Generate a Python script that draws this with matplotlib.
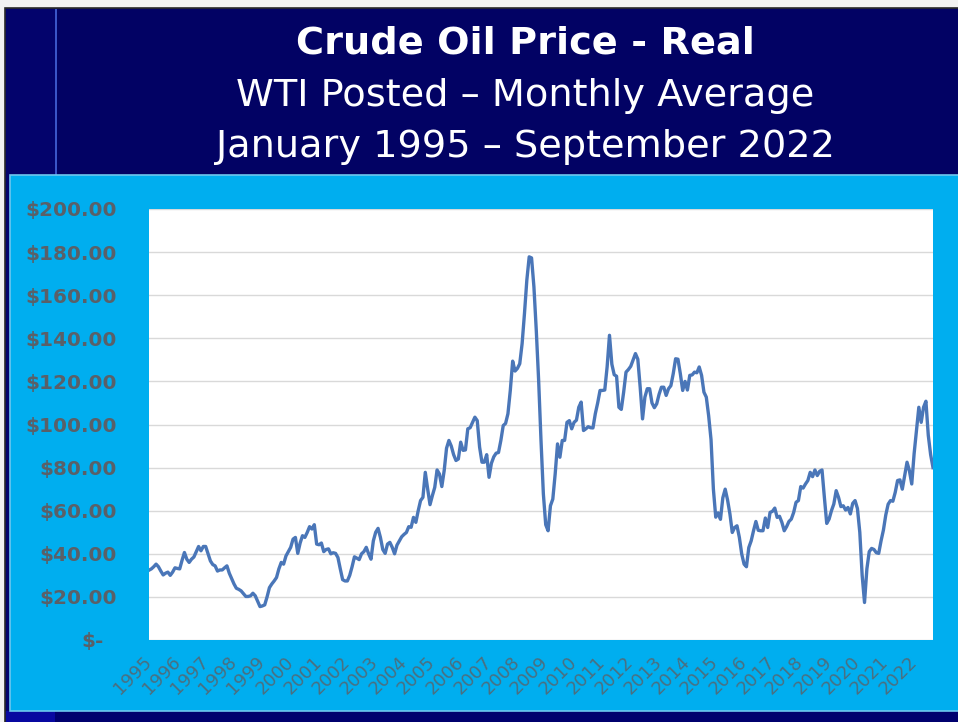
import matplotlib
matplotlib.use("Agg")
import matplotlib.pyplot as plt
from matplotlib.patches import Rectangle
from matplotlib.ticker import FixedLocator, FixedFormatter
from matplotlib.transforms import ScaledTranslation

# monthly real WTI posted price (USD), Jan 1995 .. Sep 2022
real_price = [
    32.4, 33, 34, 35.2, 34, 32, 30.2, 31, 31.5, 30, 31.5, 33.5,            # 1995
    33.2, 33, 37, 40.6, 37.5, 36, 37.5, 38.5, 41, 43.4, 41.4, 43.4,        # 1996
    43.4, 40, 36.7, 35, 34.4, 32, 32.5, 32.5, 33.5, 34.4, 31, 28.5,        # 1997
    26, 24, 23.5, 22.8, 21.5, 20.2, 20.2, 20.5, 21.7, 20.5, 18, 15.5,      # 1998
    15.8, 16.3, 20, 24.3, 26, 27.4, 29, 33, 36, 35.2, 39, 41,              # 1999
    43, 46.8, 47.6, 40.2, 45, 48.4, 47.6, 49.9, 52.6, 51.5, 53.5, 44.5,    # 2000
    44.2, 45, 41, 42, 42.3, 40, 40.5, 40.2, 38.3, 33, 28, 27.4,            # 2001
    27.4, 30, 34, 38.6, 38, 37.3, 40, 41, 43, 40, 37.5, 46,                # 2002
    50, 51.8, 47.6, 42, 40.2, 44.5, 45.3, 43, 40, 44, 46, 47.9,            # 2003
    49, 49.9, 52.6, 52.3, 56.9, 54.6, 60, 64.7, 66.2, 77.8, 70.1, 62.8,    # 2004
    67, 70.8, 78.9, 77, 71.2, 78.6, 89, 92.6, 90, 86, 83.3, 84,            # 2005
    91.8, 88, 88.2, 98, 98.5, 101, 103.4, 101.8, 89.5, 82.5, 82.5, 86,     # 2006
    75.5, 82, 85, 86.7, 87, 92.6, 99.5, 100.5, 105, 115.8, 129.4, 124.8,   # 2007
    126, 128.2, 137.5, 151.5, 167, 177.8, 177.3, 163.9, 143.7, 120.5, 92.6, 67.8,  # 2008
    53.5, 50.7, 62.3, 65.4, 77, 91, 84.8, 92.6, 92.6, 101, 101.8, 98,      # 2009
    101, 102, 108, 110.4, 97.2, 98, 99, 98.5, 98.4, 105, 110, 115.8,       # 2010
    115.8, 116, 126.7, 141.4, 128, 123.1, 122.4, 108, 107, 115, 124.3, 125.5,  # 2011
    127, 130, 132.9, 130.3, 117.3, 102.6, 112.7, 116.6, 116.6, 110, 107.8, 109.6,  # 2012
    114, 117.3, 117.3, 113.5, 116.6, 118, 123.6, 130.5, 130.3, 123.6, 115.8, 120,  # 2013
    116, 122.8, 123, 124.3, 124, 126.7, 122.8, 115, 112.7, 104, 93, 70,    # 2014
    57, 59, 56, 66, 70, 65, 58.5, 49.9, 52.2, 53, 47.6, 39.9,              # 2015
    35.2, 34, 42.9, 46, 50.7, 55, 50.9, 50.7, 50.7, 56.6, 52.2, 59.2,      # 2016
    59.7, 61.2, 56.9, 57.4, 54.6, 50.7, 52.6, 55, 56.1, 59.2, 63.9, 64.7,  # 2017
    71.2, 70.5, 72.4, 74, 77.8, 75.8, 78.9, 76.3, 78.3, 78.9, 66.2, 54.1,  # 2018
    56.1, 60, 63.1, 69.3, 66.2, 61.9, 62.3, 60.3, 61.5, 58.5, 63.4, 64.7,  # 2019
    61, 50, 30, 17.4, 33, 41, 42.5, 42, 40.5, 40.2, 46, 51,                # 2020
    58, 63, 64.7, 64.4, 68.5, 74, 74.3, 70, 76.3, 82.5, 78.6, 72.4,        # 2021
    86.4, 97, 108, 101, 108, 110.8, 95, 86, 80,                            # 2022
]

year_labels = ["1995", "1996", "1997", "1998", "1999", "2000", "2001", "2002",
               "2003", "2004", "2005", "2006", "2007", "2008", "2009", "2010",
               "2011", "2012", "2013", "2014", "2015", "2016", "2017", "2018",
               "2019", "2020", "2021", "2022"]

y_values = [0, 20, 40, 60, 80, 100, 120, 140, 160, 180, 200]
y_labels = ["$-", "$20.00", "$40.00", "$60.00", "$80.00", "$100.00",
            "$120.00", "$140.00", "$160.00", "$180.00", "$200.00"]

title_lines = ["Crude Oil Price - Real",
               "WTI Posted \u2013 Monthly Average",
               "January 1995 \u2013 September 2022"]

W, H = 958, 722
NAVY = "#020264"
SKY = "#00aeef"

fig = plt.figure(figsize=(W / 100, H / 100), dpi=100)
fig.patch.set_facecolor("#f2f2f2")

# slide background pieces, given in pixel coords (top-left origin)
def px_rect(x0, y0, x1, y1, **kw):
    r = Rectangle((x0 / W, 1 - y1 / H), (x1 - x0) / W, (y1 - y0) / H,
                  transform=fig.transFigure, zorder=-5, **kw)
    fig.add_artist(r)

px_rect(5, 8, W + 2, H + 2, facecolor=NAVY, edgecolor="#2a2a2a", linewidth=1.2)
px_rect(6, 9, 55, H + 2, facecolor="#03036c", edgecolor="none")
px_rect(55, 9, 56.5, 176, facecolor="#3a55c8", edgecolor="none")
px_rect(6, 711, 55, H + 2, facecolor="#0808a0", edgecolor="none")
px_rect(55, 711, W + 2, H + 2, facecolor="#00006e", edgecolor="none")
px_rect(10, 175, W + 2, 711, facecolor=SKY, edgecolor="#6fc7ee", linewidth=1.2)

# titles
fig.text(525 / W, 1 - 43 / H, title_lines[0], ha="center", va="center",
         color="white", fontsize=27.5, fontweight="bold")
fig.text(525 / W, 1 - 96 / H, title_lines[1], ha="center", va="center",
         color="white", fontsize=27.5)
fig.text(525 / W, 1 - 147 / H, title_lines[2], ha="center", va="center",
         color="white", fontsize=27.5)

# plot area
ax = fig.add_axes([149 / W, 1 - 640 / H, (933 - 149) / W, (640 - 209) / H])
ax.set_facecolor("white")
for s in ax.spines.values():
    s.set_visible(False)

months = range(len(real_price))
ax.plot(months, real_price, color="#4a76b8", linewidth=2.4,
        solid_joinstyle="round", zorder=3)

ax.set_xlim(0, len(real_price) - 1)
ax.set_ylim(0, 200)

ax.yaxis.set_major_locator(FixedLocator(y_values))
ax.yaxis.set_major_formatter(FixedFormatter(y_labels))
ax.grid(axis="y", color="#d9d9d9", linewidth=1)
ax.tick_params(axis="y", length=0, pad=23, labelsize=14.4, labelcolor="#5a6068")
for lab in ax.get_yticklabels():
    lab.set_fontweight("bold")
# "$-" sits further left (accounting format)
ax.get_yticklabels()[0].set_transform(
    ax.get_yticklabels()[0].get_transform()
    + ScaledTranslation(-0.13, 0, fig.dpi_scale_trans))

ax.xaxis.set_major_locator(FixedLocator(range(0, len(real_price), 12)))
ax.xaxis.set_major_formatter(FixedFormatter(year_labels))
ax.tick_params(axis="x", length=0, pad=14, labelsize=13, labelcolor="#4b6f80")
for lab in ax.get_xticklabels():
    lab.set_rotation(45)
    lab.set_ha("right")
    lab.set_va("center")
    lab.set_rotation_mode("anchor")

fig.savefig("out.png", dpi=100, facecolor=fig.get_facecolor())
